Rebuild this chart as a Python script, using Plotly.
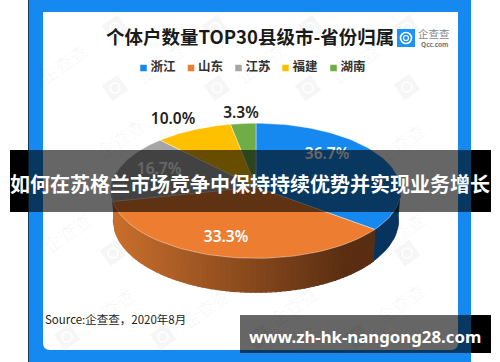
import math
import plotly.graph_objects as go

categories = ["浙江", "山东", "江苏", "福建", "湖南"]
shares = [36.7, 33.3, 16.7, 10.0, 3.3]
colors = ["#1589F0", "#ED7D31", "#A5A5A5", "#FFC000", "#70AD47"]
title = "个体户数量TOP30县级市-省份归属"
band_title = "如何在苏格兰市场竞争中保持持续优势并实现业务增长"
site = "www.zh-hk-nangong28.com"
source = "Source:企查查，2020年8月"

CJK = "Noto Sans CJK SC"
CX, CY, RX, RY, K, DEPTH = 256, 180, 143, 65.8, 0.16, 28.5


def project(deg, bottom=False):
    t = math.radians(deg)
    y_ = -math.cos(t)
    s = 1 / (1 - K * y_)
    x = CX + RX * math.sin(t) * s
    y = CY + RY * y_ * s
    if bottom:
        x = CX + (x - CX) * 0.985
        y += DEPTH * s
    return x, y


def arc(a, b, n, bottom=False):
    pts = [project(a + (b - a) * i / n, bottom) for i in range(n + 1)]
    return [p[0] for p in pts], [p[1] for p in pts]


def mix(c1, c2, f):
    f = max(0, min(1, f))
    return "rgb(%d,%d,%d)" % tuple(round(c1[i] + (c2[i] - c1[i]) * f) for i in range(3))


fig = go.Figure()


def poly(xs, ys, fill, line=None, width=0.0):
    fig.add_trace(go.Scatter(
        x=xs + xs[:1], y=ys + ys[:1], mode="lines", fill="toself", fillcolor=fill,
        line=dict(color=line or fill, width=width), hoverinfo="skip", showlegend=False))


# watermark logos (under everything in the chart)
wm_x = [115, 215, 310, 407, 115, 217, 308, 407, 113, 407, 67, 163, 260, 357]
wm_y = [28, 28, 28, 28, 88, 88, 88, 87, 253, 253, 337, 337, 337, 337]
fig.add_trace(go.Scatter(x=wm_x, y=wm_y, mode="markers", hoverinfo="skip", showlegend=False,
                         marker=dict(symbol="square", size=19, color="#f6f6f6", angle=-35)))
fig.add_trace(go.Scatter(x=wm_x, y=wm_y, mode="markers", hoverinfo="skip", showlegend=False,
                         marker=dict(symbol="circle-open", size=10, color="#ffffff", line=dict(width=1.5, color="#ffffff"))))

# slice angles
edges = [0]
for v in shares:
    edges.append(edges[-1] + v * 3.6)

# side walls
def side(a, b, color, width=0.8):
    xs1, ys1 = arc(a, b, 12)
    xs2, ys2 = arc(a, b, 12, True)
    poly(xs1 + xs2[::-1], ys1 + ys2[::-1], color, width=width)

side(95, edges[1], "#06345F")
side(edges[2], 277, "#6A6A6A")
n = 70
light, dark = (200, 110, 44), (90, 46, 18)
for i in range(n):
    a = edges[1] + (edges[2] - edges[1]) * i / n
    b = edges[1] + (edges[2] - edges[1]) * (i + 1) / n
    xm = project((a + b) / 2)[0]
    side(a, b, mix(dark, light, (345 - xm) / (345 - 115)), width=1.2)

# top faces
for i, c in enumerate(colors):
    xs, ys = arc(edges[i], edges[i + 1], 60)
    poly([CX] + xs, [CY + 7] + ys, c, line="rgba(255,255,255,0.55)", width=0.7)

# percentage labels
label_x = [327, 226, 159, 173, 241]
label_y = [155, 238, 170, 120, 114]
label_color = ["#ffffff", "#ffffff", "#ffffff", "#222222", "#222222"]
fig.add_trace(go.Scatter(
    x=label_x, y=label_y, mode="text", text=[f"{v:.1f}%" for v in shares],
    textposition="middle center", hoverinfo="skip", showlegend=False,
    textfont=dict(family="Noto Sans", size=15.5, color=label_color, weight=600)))

# legend
leg_x = [143.5, 191, 238.5, 285.5, 333.5]
fig.add_trace(go.Scatter(x=leg_x, y=[68] * 5, mode="markers", hoverinfo="skip", showlegend=False,
                         marker=dict(symbol="square", size=6.5, color=colors)))
fig.add_trace(go.Scatter(x=[x + 7 for x in leg_x], y=[68] * 5, mode="text", text=categories,
                         textposition="middle right", hoverinfo="skip", showlegend=False,
                         textfont=dict(family=CJK, size=12.5, color="#333333", weight=700)))

# source
fig.add_trace(go.Scatter(x=[45], y=[321], mode="text", text=[source], textposition="middle right",
                         hoverinfo="skip", showlegend=False,
                         textfont=dict(family=CJK, size=11.5, color="#222222")))

shapes = [
    dict(type="rect", x0=28, x1=471, y0=0, y1=362, fillcolor="#1589F0", line_width=0, layer="below"),
    dict(type="rect", x0=28, x1=29, y0=0, y1=362, fillcolor="#123a5c", line_width=0, layer="below"),
    dict(type="path", path="M43,12 L458,12 L458,343 Q458,350 451,350 L50,350 Q43,350 43,343 Z",
         fillcolor="#ffffff", line_width=0, layer="below"),
    dict(type="rect", x0=397, x1=415, y0=29, y1=47, fillcolor="#1D94F5", line_width=0, layer="above"),
    dict(type="circle", x0=400.5, x1=411.5, y0=32.5, y1=43.5, fillcolor="rgba(0,0,0,0)",
         line=dict(color="#ffffff", width=1.6), layer="above"),
    dict(type="circle", x0=403.5, x1=408.5, y0=35.5, y1=40.5, fillcolor="rgba(0,0,0,0)",
         line=dict(color="#ffffff", width=1.2), layer="above"),
    # bands
    dict(type="rect", x0=10, x1=28, y0=150, y1=212, fillcolor="#000000", line_width=0, layer="above"),
    dict(type="rect", x0=471, x1=491, y0=150, y1=212, fillcolor="#000000", line_width=0, layer="above"),
    dict(type="rect", x0=28, x1=471, y0=150, y1=212, fillcolor="rgba(0,0,0,0.6)", line_width=0, layer="above"),
    dict(type="rect", x0=471, x1=491, y0=315, y1=353, fillcolor="#000000", line_width=0, layer="above"),
    dict(type="rect", x0=240, x1=471, y0=315, y1=353, fillcolor="rgba(0,0,0,0.6)", line_width=0, layer="above"),
]

ann = []
# watermark text
wt_x = [63, 160, 260, 355, 120, 400, 67, 400, 110, 205, 293, 400]
wt_y = [63, 63, 63, 63, 138, 143, 232, 232, 308, 308, 306, 303]
for x, y in zip(wt_x, wt_y):
    ann.append(dict(x=x, y=y, text="企查查", showarrow=False, textangle=-35,
                    font=dict(family=CJK, size=18, color="rgba(0,0,0,0.04)")))


def label(x, y, text, size, color, family=CJK, weight=400, anchor="center"):
    ann.append(dict(x=x, y=y, text=text, showarrow=False, xanchor=anchor, yanchor="middle",
                    font=dict(family=family, size=size, color=color, weight=weight)))


label(250, 36, title, 18.5, "#1a1a1a", weight=700)
label(434, 33, "企查查", 10.5, "#888888")
label(434, 44, "Qcc.com", 6.5, "#777777", family="Noto Sans", weight=700)
label(250, 183, band_title, 20, "#ffffff", weight=700)
label(365, 336, site, 16.8, "#ffffff", family="Noto Sans", weight=700)

fig.update_layout(
    width=500, height=362, margin=dict(l=0, r=0, t=0, b=0),
    paper_bgcolor="#ffffff", plot_bgcolor="#ffffff", showlegend=False,
    shapes=shapes, annotations=ann,
    xaxis=dict(range=[0, 500], visible=False, fixedrange=True),
    yaxis=dict(range=[362, 0], visible=False, fixedrange=True),
)
fig.write_html("out.html", config=dict(displayModeBar=False),
               post_script="document.body.style.margin='0';document.body.style.overflow='hidden';")
